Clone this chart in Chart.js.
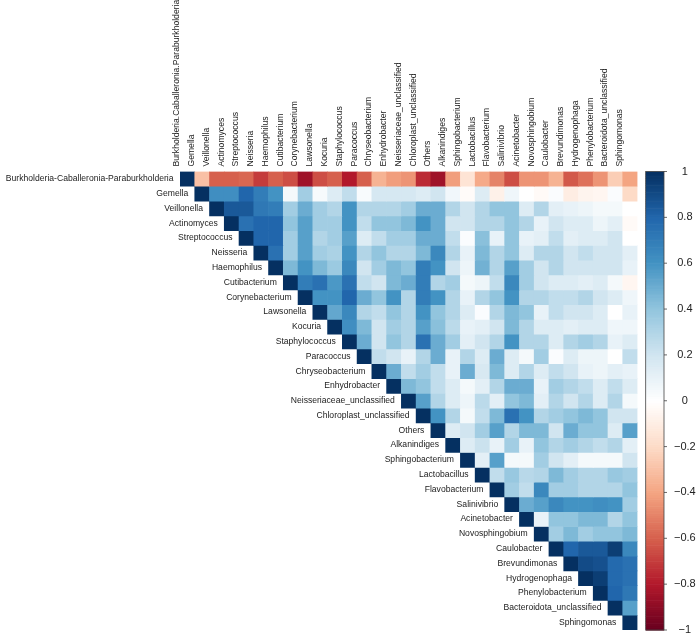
<!DOCTYPE html>
<html>
<head>
<meta charset="utf-8">
<script src="https://cdn.jsdelivr.net/npm/chart.js@4.4.1/dist/chart.umd.min.js"></script>
<style>
  html, body { margin: 0; padding: 0; background: #fff; }
  #corr_chart { display: block; }
</style>
</head>
<body>
<canvas id="corr_chart" width="700" height="637"></canvas>
<script>
const taxa = [
  "Burkholderia-Caballeronia-Paraburkholderia", "Gemella", "Veillonella", "Actinomyces",
  "Streptococcus", "Neisseria", "Haemophilus", "Cutibacterium", "Corynebacterium",
  "Lawsonella", "Kocuria", "Staphylococcus", "Paracoccus", "Chryseobacterium",
  "Enhydrobacter", "Neisseriaceae_unclassified", "Chloroplast_unclassified", "Others",
  "Alkanindiges", "Sphingobacterium", "Lactobacillus", "Flavobacterium", "Salinivibrio",
  "Acinetobacter", "Novosphingobium", "Caulobacter", "Brevundimonas", "Hydrogenophaga",
  "Phenylobacterium", "Bacteroidota_unclassified", "Sphingomonas"
];
// column names went through make.names, so the first one has dots
const col_labels = ["Burkholderia.Caballeronia.Paraburkholderia"].concat(taxa.slice(1));

// upper triangle, each row starts at its own diagonal
const burkholderia = [1, -0.3, -0.6, -0.6, -0.58, -0.7, -0.6, -0.65, -0.85, -0.65, -0.6, -0.8, -0.6, -0.35, -0.42, -0.45, -0.75, -0.85, -0.42, -0.15, -0.38, -0.5, -0.65, -0.45, -0.45, -0.35, -0.62, -0.55, -0.45, -0.25, -0.4];
const gemella = [1, 0.62, 0.62, 0.8, 0.7, 0.6, 0.05, 0.35, 0.04, 0.15, 0.25, 0.03, 0.18, 0.18, 0.18, 0.15, 0.2, 0.06, -0.02, 0.15, -0.08, 0.07, 0.0, -0.03, 0.02, -0.1, -0.06, -0.05, 0.02, -0.2];
const veillonella = [1, 0.85, 0.85, 0.72, 0.7, 0.35, 0.5, 0.35, 0.3, 0.6, 0.3, 0.3, 0.3, 0.35, 0.5, 0.5, 0.3, 0.2, 0.3, 0.4, 0.4, 0.15, 0.3, 0.12, 0.1, 0.08, 0.05, 0.05, 0.0];
const actinomyces = [1, 0.75, 0.8, 0.8, 0.4, 0.55, 0.35, 0.35, 0.6, 0.25, 0.4, 0.4, 0.45, 0.6, 0.5, 0.2, 0.2, 0.3, 0.3, 0.4, 0.3, 0.1, 0.2, 0.15, 0.15, 0.08, 0.12, -0.03];
const streptococcus = [1, 0.8, 0.8, 0.35, 0.55, 0.3, 0.35, 0.55, 0.15, 0.25, 0.35, 0.35, 0.5, 0.5, 0.25, 0.02, 0.42, 0.1, 0.4, 0.1, 0.12, 0.25, 0.12, 0.15, 0.15, 0.2, 0.0];
const neisseria = [1, 0.75, 0.35, 0.55, 0.35, 0.32, 0.6, 0.3, 0.4, 0.3, 0.3, 0.45, 0.65, 0.3, 0.1, 0.45, 0.3, 0.4, 0.15, 0.3, 0.3, 0.2, 0.25, 0.2, 0.2, 0.12];
const haemophilus = [1, 0.45, 0.6, 0.45, 0.37, 0.65, 0.2, 0.35, 0.45, 0.4, 0.7, 0.6, 0.2, 0.08, 0.48, 0.3, 0.55, 0.35, 0.2, 0.3, 0.2, 0.2, 0.2, 0.2, 0.1];
const cutibacterium = [1, 0.7, 0.75, 0.58, 0.75, 0.25, 0.2, 0.45, 0.5, 0.7, 0.3, 0.35, 0.05, 0.08, 0.25, 0.65, 0.35, 0.2, 0.15, 0.15, 0.12, 0.15, 0.05, -0.05];
const corynebacterium = [1, 0.6, 0.6, 0.8, 0.5, 0.4, 0.6, 0.3, 0.7, 0.6, 0.3, 0.1, 0.3, 0.4, 0.6, 0.3, 0.3, 0.25, 0.25, 0.3, 0.2, 0.15, 0.07];
const lawsonella = [1, 0.52, 0.65, 0.3, 0.25, 0.4, 0.3, 0.6, 0.4, 0.3, 0.15, 0.02, 0.3, 0.45, 0.4, 0.1, 0.25, 0.2, 0.2, 0.15, 0.0, 0.1];
const kocuria = [1, 0.62, 0.45, 0.2, 0.35, 0.3, 0.55, 0.42, 0.27, 0.1, 0.12, 0.2, 0.45, 0.3, 0.15, 0.15, 0.12, 0.15, 0.15, 0.07, 0.07];
const staphylococcus = [1, 0.5, 0.2, 0.4, 0.3, 0.75, 0.5, 0.35, 0.12, 0.2, 0.3, 0.6, 0.3, 0.3, 0.15, 0.3, 0.35, 0.3, 0.1, 0.15];
const paracoccus = [1, 0.25, 0.2, 0.1, 0.3, 0.5, 0.1, 0.3, 0.15, 0.5, 0.15, 0.05, 0.35, 0.02, 0.15, 0.08, 0.08, 0.0, 0.25];
const chryseobacterium = [1, 0.5, 0.25, 0.35, 0.25, 0.1, 0.5, 0.17, 0.45, 0.15, 0.3, 0.15, 0.25, 0.2, 0.1, 0.08, 0.12, 0.1];
const enhydrobacter = [1, 0.45, 0.4, 0.25, 0.15, 0.05, 0.12, 0.3, 0.5, 0.5, 0.1, 0.35, 0.3, 0.25, 0.15, 0.25, 0.15];
const neisseriaceae = [1, 0.55, 0.3, 0.15, 0.08, 0.27, 0.12, 0.4, 0.45, 0.12, 0.3, 0.2, 0.3, 0.15, 0.3, 0.05];
const chloroplast = [1, 0.6, 0.3, 0.05, 0.25, 0.45, 0.75, 0.6, 0.3, 0.35, 0.4, 0.45, 0.4, 0.2, 0.2];
const others = [1, 0.15, 0.2, 0.35, 0.55, 0.3, 0.45, 0.45, 0.2, 0.5, 0.4, 0.4, 0.15, 0.55];
const alkanindiges = [1, 0.15, 0.22, 0.1, 0.35, 0.1, 0.4, 0.3, 0.35, 0.3, 0.25, 0.3, 0.12];
const sphingobacterium = [1, 0.12, 0.55, 0.05, 0.05, 0.35, 0.2, 0.12, 0.05, 0.05, 0.05, 0.2];
const lactobacillus = [1, 0.25, 0.38, 0.28, 0.3, 0.45, 0.35, 0.3, 0.3, 0.38, 0.35];
const flavobacterium = [1, 0.35, 0.25, 0.65, 0.35, 0.35, 0.3, 0.3, 0.3, 0.4];
const salinivibrio = [1, 0.5, 0.55, 0.65, 0.6, 0.6, 0.62, 0.6, 0.35];
const acinetobacter = [1, 0.1, 0.4, 0.4, 0.45, 0.45, 0.3, 0.4];
const novosphingobium = [1, 0.35, 0.45, 0.35, 0.4, 0.4, 0.45];
const caulobacter = [1, 0.8, 0.85, 0.85, 0.95, 0.65];
const brevundimonas = [1, 0.9, 0.88, 0.78, 0.75];
const hydrogenophaga = [1, 0.95, 0.78, 0.75];
const phenylobacterium = [1, 0.8, 0.72];
const bacteroidota = [1, 0.55];
const sphingomonas = [1];

const corr_rows = [
  burkholderia, gemella, veillonella, actinomyces, streptococcus, neisseria, haemophilus,
  cutibacterium, corynebacterium, lawsonella, kocuria, staphylococcus, paracoccus,
  chryseobacterium, enhydrobacter, neisseriaceae, chloroplast, others, alkanindiges,
  sphingobacterium, lactobacillus, flavobacterium, salinivibrio, acinetobacter,
  novosphingobium, caulobacter, brevundimonas, hydrogenophaga, phenylobacterium,
  bacteroidota, sphingomonas
];

const bar_ticks = [1, 0.8, 0.6, 0.4, 0.2, 0, -0.2, -0.4, -0.6, -0.8, -1];

// corrplot's RdBu ramp, from -1 to 1
const ramp = ["#67001F", "#B2182B", "#D6604D", "#F4A582", "#FDDBC7", "#FFFFFF",
  "#D1E5F0", "#92C5DE", "#4393C3", "#2166AC", "#053061"];

const hex_rgb = (h) => [1, 3, 5].map((i) => parseInt(h.slice(i, i + 2), 16));

const corr_color = (v) => {
  const t = Math.max(0, Math.min(1, (v + 1) / 2)) * (ramp.length - 1);
  const i = Math.min(Math.floor(t), ramp.length - 2);
  const f = t - i;
  const a = hex_rgb(ramp[i]);
  const b = hex_rgb(ramp[i + 1]);
  const c = a.map((x, k) => Math.round(x + (b[k] - x) * f));
  return `rgb(${c[0]},${c[1]},${c[2]})`;
};

const fmt_tick = (v) => {
  const r = Math.round(v * 10) / 10;
  if (r === 0) return "0";
  const s = Math.abs(r) === 1 ? "1" : Math.abs(r).toFixed(1);
  return r < 0 ? "\u2212" + s : s;
};

// one dataset per row, floating bars [row, row + 1]
const datasets = corr_rows.map((row, r) => ({
  label: taxa[r],
  data: taxa.map((t, c) => (c >= r ? [r, r + 1] : null)),
  backgroundColor: taxa.map((t, c) => (c >= r ? corr_color(row[c - r]) : "rgba(0,0,0,0)")),
  borderWidth: 0,
  grouped: false,
  barPercentage: 1,
  categoryPercentage: 1,
}));

const font_family = "'Liberation Sans', Arial, sans-serif";
const label_size = 8.6;

const corr_extras = {
  id: "corr_extras",
  afterDraw(chart) {
    const { ctx, scales } = chart;
    const x = scales.x;
    const y = scales.y;
    const cbar = scales.cbar;
    const cell = x.getPixelForValue(1) - x.getPixelForValue(0);

    // row labels, next to each diagonal cell
    ctx.save();
    ctx.font = `${label_size}px ${font_family}`;
    ctx.fillStyle = "#222";
    ctx.textAlign = "right";
    ctx.textBaseline = "middle";
    taxa.forEach((t, r) => {
      ctx.fillText(t, x.getPixelForValue(r) - cell / 2 - 6.5, y.getPixelForValue(r + 0.5));
    });

    // colour bar
    const bx0 = cbar.left + 8.2;
    const bx1 = cbar.left + 26.5;
    const steps = 200;
    for (let i = 0; i < steps; i++) {
      const v0 = -1 + (2 * i) / steps;
      const v1 = -1 + (2 * (i + 1)) / steps;
      const p0 = cbar.getPixelForValue(v0);
      const p1 = cbar.getPixelForValue(v1);
      ctx.fillStyle = corr_color((v0 + v1) / 2);
      ctx.fillRect(bx0, p1, bx1 - bx0, p0 - p1 + 0.6);
    }
    ctx.strokeStyle = "#444";
    ctx.lineWidth = 0.8;
    ctx.strokeRect(bx0, cbar.getPixelForValue(1), bx1 - bx0, cbar.getPixelForValue(-1) - cbar.getPixelForValue(1));
    ctx.beginPath();
    bar_ticks.forEach((v) => {
      const p = cbar.getPixelForValue(v);
      ctx.moveTo(bx1, p);
      ctx.lineTo(bx1 + 3, p);
    });
    ctx.stroke();
    ctx.restore();
  },
};

const config_corr = {
  type: "bar",
  data: { labels: col_labels, datasets: datasets },
  options: {
    responsive: false,
    animation: false,
    layout: { padding: { left: 180, top: 0, right: 0, bottom: 7 } },
    plugins: {
      legend: { display: false },
      tooltip: { enabled: false },
    },
    scales: {
      x: {
        type: "category",
        position: "top",
        offset: true,
        grid: { display: false, drawTicks: false },
        border: { display: false },
        ticks: {
          autoSkip: false,
          minRotation: 90,
          maxRotation: 90,
          padding: 5,
          color: "#222",
          font: { family: font_family, size: label_size },
        },
        afterFit: (scale) => { scale.height = 171.5; },
      },
      y: {
        type: "linear",
        min: 0,
        max: taxa.length,
        reverse: true,
        display: false,
      },
      cbar: {
        type: "linear",
        position: "right",
        min: -1,
        max: 1,
        grid: { display: false, drawTicks: false },
        border: { display: false },
        ticks: {
          stepSize: 0.2,
          crossAlign: "center",
          padding: 36.5,
          color: "#222",
          font: { family: font_family, size: 11 },
          callback: (v) => fmt_tick(v),
        },
        afterFit: (scale) => {
          // the big label padding should not shrink the plot vertically
          scale.width = 62.5;
          scale.paddingTop = 6;
          scale.paddingBottom = 6;
        },
      },
    },
  },
  plugins: [corr_extras],
};

var ctx_corr = document.getElementById("corr_chart");
var corr_chart = new Chart(ctx_corr, config_corr);
</script>
</body>
</html>
